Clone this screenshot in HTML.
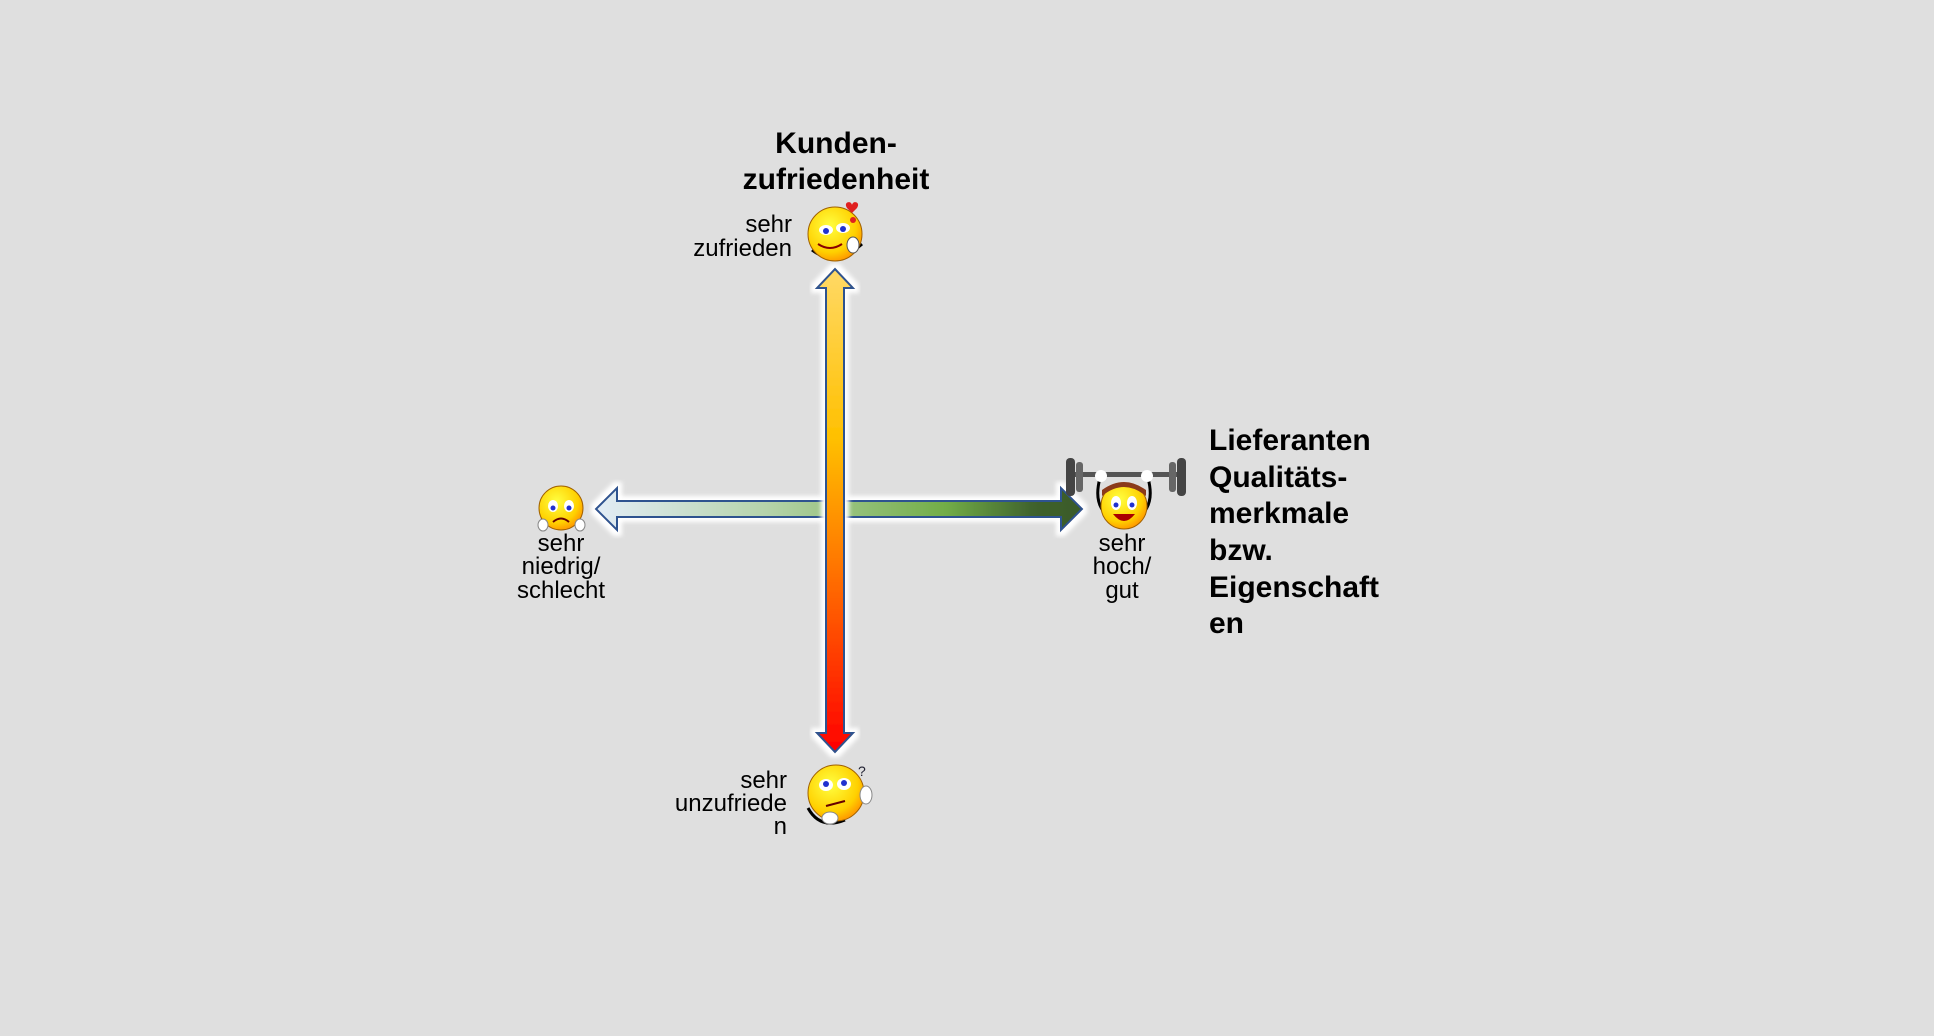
<!DOCTYPE html>
<html><head><meta charset="utf-8"><style>
html,body{margin:0;padding:0;background:#dfdfdf;}
svg{display:block}
text{font-family:"Liberation Sans",Arial,sans-serif;}
</style></head><body>
<svg width="1934" height="1036" viewBox="0 0 1934 1036" xmlns="http://www.w3.org/2000/svg">
<defs>
<linearGradient id="gv" x1="0" y1="0" x2="0" y2="1">
<stop offset="0" stop-color="#ffd966"/><stop offset="0.35" stop-color="#ffc000"/><stop offset="0.6" stop-color="#ff7a00"/><stop offset="1" stop-color="#ff0000"/></linearGradient>
<linearGradient id="gh" x1="0" y1="0" x2="1" y2="0">
<stop offset="0" stop-color="#e3edf7"/><stop offset="0.35" stop-color="#b5d3aa"/><stop offset="0.72" stop-color="#72ad47"/><stop offset="0.9" stop-color="#3f622d"/><stop offset="1" stop-color="#3a5a28"/></linearGradient>
<radialGradient id="sm" cx="0.4" cy="0.35" r="0.7"><stop offset="0" stop-color="#ffff40"/><stop offset="0.7" stop-color="#ffd000"/><stop offset="1" stop-color="#ff9000"/></radialGradient>
<filter id="glow" x="-20%" y="-20%" width="140%" height="140%"><feMorphology operator="dilate" radius="4" in="SourceAlpha" result="d"/><feGaussianBlur in="d" stdDeviation="2" result="b"/><feFlood flood-color="#fff"/><feComposite in2="b" operator="in"/><feMerge><feMergeNode/><feMergeNode in="SourceGraphic"/></feMerge></filter>
</defs>
<rect width="1934" height="1036" fill="#dfdfdf"/>
<path filter="url(#glow)" d="M596,509 L617,488 L617,501 L1061,501 L1061,488 L1082,509 L1061,530 L1061,517 L617,517 L617,530 Z" fill="url(#gh)" stroke="#2f528f" stroke-width="2"/>
<path filter="url(#glow)" d="M835,269 L853,288 L844,288 L844,733 L853,733 L835,752 L817,733 L826,733 L826,288 L817,288 Z" fill="url(#gv)" stroke="#2f528f" stroke-width="2"/>
<text x="836" y="153" font-size="30" font-weight="bold" text-anchor="middle">Kunden-</text>
<text x="836" y="189" font-size="30" font-weight="bold" text-anchor="middle">zufriedenheit</text>
<g font-size="30" font-weight="bold">
<text x="1209" y="450">Lieferanten</text><text x="1209" y="487">Qualitäts-</text><text x="1209" y="523">merkmale</text><text x="1209" y="560">bzw.</text><text x="1209" y="597">Eigenschaft</text><text x="1209" y="633">en</text></g>
<g font-size="24">
<text x="792" y="232" text-anchor="end">sehr</text><text x="792" y="256" text-anchor="end">zufrieden</text>
<text x="787" y="788" text-anchor="end">sehr</text><text x="787" y="811" text-anchor="end">unzufriede</text><text x="787" y="834" text-anchor="end">n</text>
<g text-anchor="middle"><text x="561" y="551">sehr</text><text x="561" y="574">niedrig/</text><text x="561" y="598">schlecht</text>
<text x="1122" y="551">sehr</text><text x="1122" y="574">hoch/</text><text x="1122" y="598">gut</text></g></g>
<g><path d="M812,250 Q835,268 862,244" stroke="#000" stroke-width="3" fill="none"/>
<circle cx="835" cy="234" r="27" fill="url(#sm)" stroke="#a06000" stroke-width="1"/>
<ellipse cx="826" cy="230" rx="7" ry="5" fill="#fff"/><ellipse cx="843" cy="228" rx="7" ry="5" fill="#fff"/>
<circle cx="826" cy="231" r="3" fill="#2030d0"/><circle cx="843" cy="229" r="3" fill="#2030d0"/>
<path d="M818,244 Q830,252 842,244" stroke="#800" stroke-width="2" fill="none"/>
<ellipse cx="853" cy="245" rx="6" ry="8" fill="#fff" stroke="#555"/>
<path d="M847,208 c-4,-6 4,-8 5,-3 c1,-5 9,-3 5,3 l-5,5 z" fill="#e02020"/>
<circle cx="853" cy="220" r="3" fill="#e02020"/></g>
<g><path d="M543,522 Q540,508 548,502" stroke="#000" stroke-width="3" fill="none"/>
<circle cx="561" cy="508" r="22" fill="url(#sm)" stroke="#a06000"/>
<ellipse cx="553" cy="506" rx="5" ry="6" fill="#fff"/><ellipse cx="569" cy="506" rx="5" ry="6" fill="#fff"/>
<circle cx="553" cy="508" r="2.5" fill="#2030d0"/><circle cx="569" cy="508" r="2.5" fill="#2030d0"/>
<path d="M553,522 Q561,515 569,522" stroke="#600" stroke-width="2" fill="none"/>
<ellipse cx="543" cy="525" rx="5" ry="6" fill="#fff" stroke="#888"/><ellipse cx="580" cy="525" rx="5" ry="6" fill="#fff" stroke="#888"/></g>
<g><rect x="1075" y="472" width="110" height="5" fill="#555"/>
<rect x="1066" y="458" width="9" height="38" rx="4" fill="#444"/><rect x="1076" y="462" width="7" height="30" rx="3" fill="#666"/>
<rect x="1177" y="458" width="9" height="38" rx="4" fill="#444"/><rect x="1169" y="462" width="7" height="30" rx="3" fill="#666"/>
<path d="M1100,478 Q1094,500 1104,512 M1148,478 Q1154,500 1144,512" stroke="#000" stroke-width="3" fill="none"/>
<circle cx="1124" cy="506" r="23" fill="url(#sm)" stroke="#a06000"/>
<path d="M1102,496 Q1124,478 1146,496 L1146,490 Q1124,474 1102,490 Z" fill="#8b3a1a"/>
<ellipse cx="1116" cy="503" rx="5" ry="7" fill="#fff"/><ellipse cx="1132" cy="503" rx="5" ry="7" fill="#fff"/>
<circle cx="1116" cy="505" r="2.5" fill="#2030d0"/><circle cx="1132" cy="505" r="2.5" fill="#2030d0"/>
<path d="M1113,514 Q1124,528 1135,514 Z" fill="#a00"/>
<circle cx="1101" cy="476" r="6" fill="#fff"/><circle cx="1147" cy="476" r="6" fill="#fff"/></g>
<g><path d="M808,808 Q820,830 845,820" stroke="#000" stroke-width="3" fill="none"/>
<circle cx="836" cy="793" r="28" fill="url(#sm)" stroke="#a06000"/>
<ellipse cx="826" cy="785" rx="7" ry="6" fill="#fff"/><ellipse cx="844" cy="784" rx="7" ry="6" fill="#fff"/>
<circle cx="826" cy="784" r="3" fill="#2030d0"/><circle cx="844" cy="783" r="3" fill="#2030d0"/>
<path d="M826,806 L845,801" stroke="#600" stroke-width="2"/>
<ellipse cx="830" cy="818" rx="8" ry="6" fill="#fff" stroke="#888"/><ellipse cx="866" cy="795" rx="6" ry="9" fill="#fff" stroke="#888"/>
<text x="858" y="776" font-size="14" fill="#223">?</text></g>
</svg>
</body></html>
